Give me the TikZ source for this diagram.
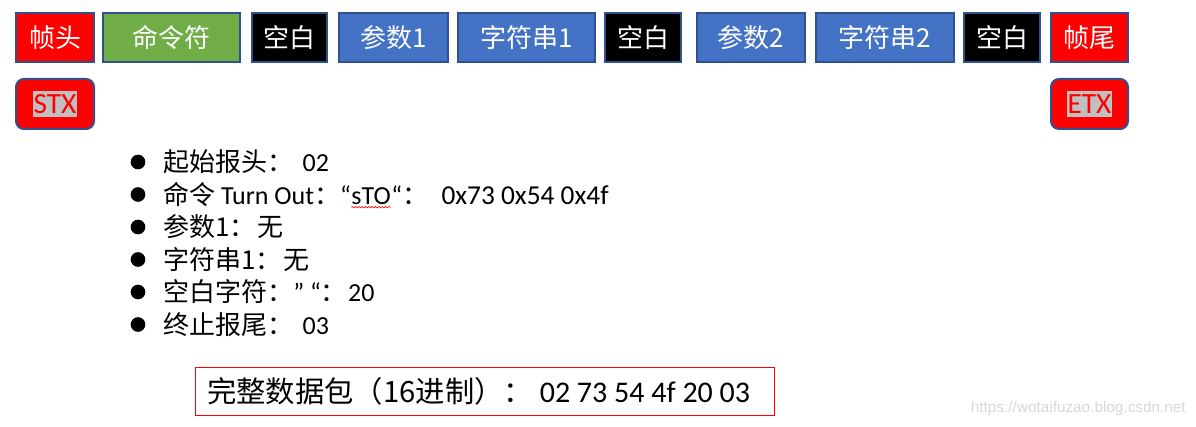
\documentclass[tikz,border=0pt]{standalone}
\usepackage{fontspec}
\setmainfont{Carlito}
\newfontfamily\cjk{Noto Sans CJK SC}
\newfontfamily\wmfont{Liberation Sans}
\usetikzlibrary{decorations.pathmorphing}
\definecolor{rRed}{HTML}{FF0000}
\definecolor{rGreen}{HTML}{70AD47}
\definecolor{rBlue}{HTML}{4472C4}
\definecolor{rEdge}{HTML}{2F528F}
\definecolor{rGrey}{HTML}{C0C0C0}
\definecolor{rMark}{HTML}{D8D8D8}
\begin{document}
\begin{tikzpicture}[x=0.75pt,y=-0.75pt,
  pxsize/.style 2 args={minimum width=#1*0.75pt, minimum height=#2*0.75pt},
  cell/.style={draw=rEdge, line width=1.5pt, inner sep=0pt, text=white,
    font=\cjk\fontsize{19.5}{20}\selectfont},
  tagbox/.style={cell, fill=rRed, rounded corners=6pt},
  tagtext/.style={fill=rGrey, text=rRed, inner xsep=0.5pt, inner ysep=0pt,
    minimum height=20pt, font=\fontsize{22}{24}\selectfont},
  dot/.style={circle, fill=black, inner sep=0pt, minimum size=11pt},
  item/.style={anchor=base west, inner sep=0pt, font=\fontsize{19.5}{22}\selectfont},
  wavy/.style={draw=rRed, line width=0.5pt, decorate,
    decoration={snake, amplitude=0.5pt, segment length=2.5pt}}
]
\useasboundingbox (0,0) rectangle (1196,427);

% top row
\node[cell, fill=rRed,   pxsize={78}{49}]  (fh)  at (55,37.5)    {帧头};
\node[cell, fill=rGreen, pxsize={137}{49}] (cmd) at (171.5,37.5) {命令符};
\node[cell, fill=black,  pxsize={75}{49}]  (sp1) at (289.5,37.5) {空白};
\node[cell, fill=rBlue,  pxsize={109}{49}] (p1)  at (393.5,37.5) {参数1};
\node[cell, fill=rBlue,  pxsize={137}{49}] (s1)  at (526.5,37.5) {字符串1};
\node[cell, fill=black,  pxsize={76}{49}]  (sp2) at (643,37.5)   {空白};
\node[cell, fill=rBlue,  pxsize={108}{49}] (p2)  at (751,37.5)   {参数2};
\node[cell, fill=rBlue,  pxsize={138}{49}] (s2)  at (885,37.5)   {字符串2};
\node[cell, fill=black,  pxsize={76}{49}]  (sp3) at (1002,37.5)  {空白};
\node[cell, fill=rRed,   pxsize={77}{49}]  (ft)  at (1089.5,37.5) {帧尾};

% STX / ETX
\node[tagbox, pxsize={78}{50}] (stx) at (55,104) {};
\node[tagtext] (stxT) at (stx.center) {STX};
\node[tagbox, pxsize={77}{50}] (etx) at (1089.5,104) {};
\node[tagtext] (etxT) at (etx.center) {ETX};

% bullet list
\node[dot] (d1) at (138,162) {};
\node[dot] (d2) at (138,194.5) {};
\node[dot] (d3) at (138,227) {};
\node[dot] (d4) at (138,259.5) {};
\node[dot] (d5) at (138,292) {};
\node[dot] (d6) at (138,324.5) {};

\node[item] (t1) at (163,172) {{\cjk 起始报头：}\hspace{7pt}02};
\node[item] (t2a) at (163,204.5) {{\cjk 命令} Turn Out{\cjk ：}“};
\node[item] (t2b) at (t2a.base east) {sTO};
\node[item] (t2c) at (t2b.base east) {“{\cjk ：}\hspace{10pt}{\fontsize{20.5}{22}\selectfont 0x73 0x54 0x4f}};
\draw[wavy] ([yshift=-2pt]t2b.base west) -- ([yshift=-2pt]t2b.base east);
\node[item] (t3) at (163,237) {{\cjk 参数1：}\hspace{1pt}{\cjk 无}};
\node[item] (t4) at (163,269.5) {{\cjk 字符串1：}\hspace{1pt}{\cjk 无}};
\node[item] (t5) at (163,302) {{\cjk 空白字符：}” “{\cjk ：}\hspace{1pt}20};
\node[item] (t6) at (163,334.5) {{\cjk 终止报尾：}\hspace{7pt}03};

% packet box
\node[draw=rRed, line width=0.9pt, pxsize={579}{48}] (pkt) at (485,391.5) {};
\node[anchor=base west, inner sep=0pt, font=\fontsize{22}{24}\selectfont] (pktT)
  at (207,402.5) {{\cjk 完整数据包（16进制）：}\ {\fontsize{22.5}{24}\selectfont 02 73 54 4f 20 03}};

% watermark
\node[anchor=east, inner sep=0pt, text=rMark, font=\wmfont\fontsize{11.5}{12}\selectfont] (wm)
  at (1186,409) {https://wotaifuzao.blog.csdn.net};
\end{tikzpicture}
\end{document}
